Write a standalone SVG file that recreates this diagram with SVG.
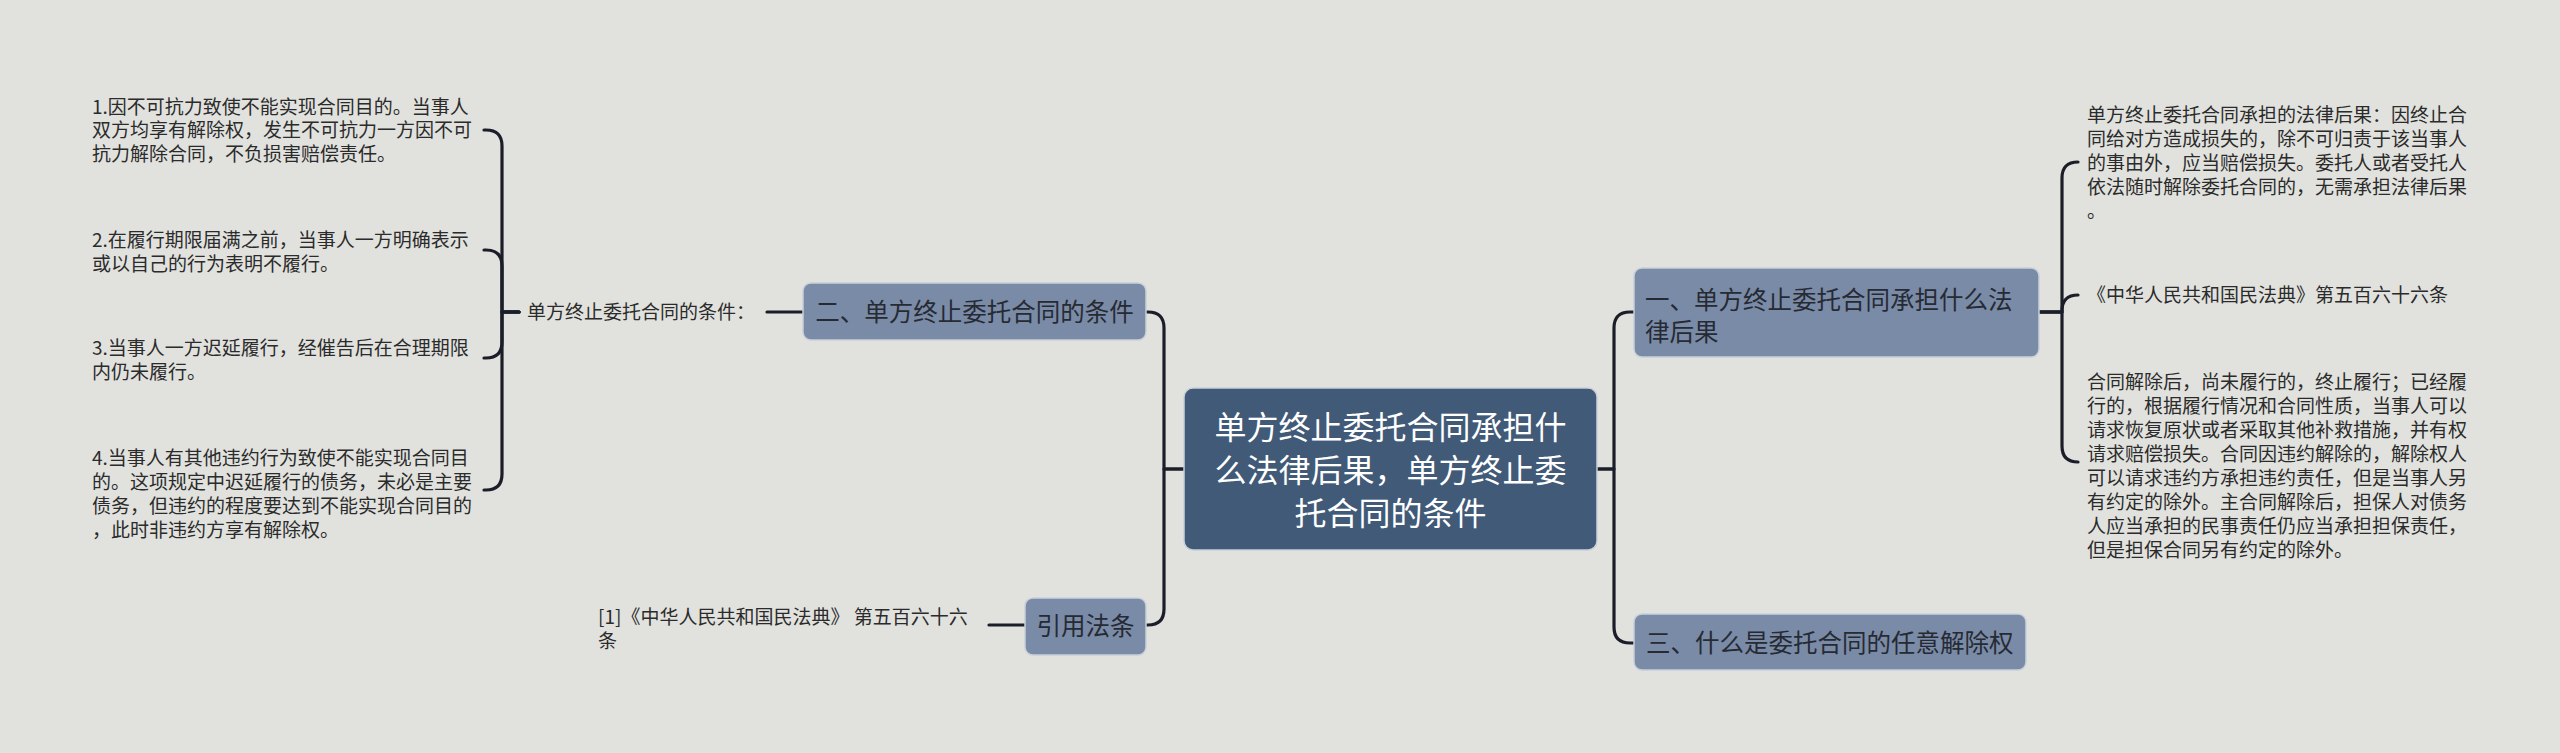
<svg xmlns="http://www.w3.org/2000/svg" width="2560" height="753" viewBox="0 0 2560 753">
<style>
text{font-family:"Noto Sans CJK SC","Noto Sans",sans-serif}
.leaf{font-size:19px;fill:#2b2b2b}
.sub{font-size:24.5px;fill:#262a33}
.ctr{font-size:32px;fill:#ffffff}
.subbox{fill:#7a8ba7;stroke:#c9d0da;stroke-width:1.5}
.ctrbox{fill:#405a78;stroke:#c9d0da;stroke-width:1.5}
.conn path{fill:none;stroke:#1b1e29;stroke-width:3.2;stroke-linecap:round;stroke-linejoin:round}
</style>
<rect width="2560" height="753" fill="#e1e2de"/>
<g class="conn">
<path d="M1184,469 H1164 V328 Q1164,312 1148,312 H1146"/>
<path d="M1184,469 H1164 V609 Q1164,625 1148,625 H1146"/>
<path d="M1597,469 H1614 V328 Q1614,312 1630,312 H1634"/>
<path d="M1597,469 H1614 V627 Q1614,643 1630,643 H1634"/>
<path d="M2039,312 H2062 V178 Q2062,162 2078,162"/>
<path d="M2039,312 H2062 V311 Q2062,295 2078,295"/>
<path d="M2039,312 H2062 V446 Q2062,462 2078,462"/>
<path d="M803,312 H767"/>
<path d="M1025,625 H989"/>
<path d="M519,312 H502 V146 Q502,130 486,130 H484"/>
<path d="M519,312 H502 V266 Q502,250 486,250 H484"/>
<path d="M519,312 H502 V342 Q502,358 486,358 H484"/>
<path d="M519,312 H502 V474 Q502,490 486,490 H484"/>
</g>
<g id="center">
<rect class="ctrbox" x="1184" y="388" width="413" height="162" rx="9"/>
<text class="ctr" x="1390.5" y="439" text-anchor="middle">单方终止委托合同承担什</text>
<text class="ctr" x="1390.5" y="482" text-anchor="middle">么法律后果，单方终止委</text>
<text class="ctr" x="1390.5" y="525" text-anchor="middle">托合同的条件</text>
</g>
<g id="n-yi">
<rect class="subbox" x="1634" y="268" width="405" height="89" rx="8"/>
<text class="sub" x="1645" y="309">一、单方终止委托合同承担什么法</text>
<text class="sub" x="1645" y="341">律后果</text>
</g>
<g id="n-san">
<rect class="subbox" x="1634" y="614" width="392" height="56" rx="8"/>
<text class="sub" x="1646" y="652">三、什么是委托合同的任意解除权</text>
</g>
<g id="n-er">
<rect class="subbox" x="803" y="283" width="343" height="57" rx="8"/>
<text class="sub" x="974.5" y="321" text-anchor="middle">二、单方终止委托合同的条件</text>
</g>
<g id="n-yinyong">
<rect class="subbox" x="1025" y="598" width="121" height="57" rx="8"/>
<text class="sub" x="1085.5" y="635" text-anchor="middle">引用法条</text>
</g>
<g id="label-tiaojian">
<text class="leaf" x="527" y="319">单方终止委托合同的条件：</text>
</g>
<g id="label-fatiao">
<text class="leaf" x="598" y="624">[1]《中华人民共和国民法典》 第五百六十六</text>
<text class="leaf" x="598" y="648">条</text>
</g>
<g id="item1">
<text class="leaf" x="92" y="113.5">1.因不可抗力致使不能实现合同目的。当事人</text>
<text class="leaf" x="92" y="137">双方均享有解除权，发生不可抗力一方因不可</text>
<text class="leaf" x="92" y="160.5">抗力解除合同，不负损害赔偿责任。</text>
</g>
<g id="item2">
<text class="leaf" x="92" y="247">2.在履行期限届满之前，当事人一方明确表示</text>
<text class="leaf" x="92" y="270.5">或以自己的行为表明不履行。</text>
</g>
<g id="item3">
<text class="leaf" x="92" y="355">3.当事人一方迟延履行，经催告后在合理期限</text>
<text class="leaf" x="92" y="379">内仍未履行。</text>
</g>
<g id="item4">
<text class="leaf" x="92" y="465">4.当事人有其他违约行为致使不能实现合同目</text>
<text class="leaf" x="92" y="489">的。这项规定中迟延履行的债务，未必是主要</text>
<text class="leaf" x="92" y="513">债务，但违约的程度要达到不能实现合同目的</text>
<text class="leaf" x="92" y="537">，此时非违约方享有解除权。</text>
</g>
<g id="r-item1">
<text class="leaf" x="2087" y="122">单方终止委托合同承担的法律后果：因终止合</text>
<text class="leaf" x="2087" y="146">同给对方造成损失的，除不可归责于该当事人</text>
<text class="leaf" x="2087" y="170">的事由外，应当赔偿损失。委托人或者受托人</text>
<text class="leaf" x="2087" y="194">依法随时解除委托合同的，无需承担法律后果</text>
<text class="leaf" x="2087" y="218">。</text>
</g>
<g id="r-item2">
<text class="leaf" x="2087" y="302">《中华人民共和国民法典》第五百六十六条</text>
</g>
<g id="r-item3">
<text class="leaf" x="2087" y="389">合同解除后，尚未履行的，终止履行；已经履</text>
<text class="leaf" x="2087" y="413">行的，根据履行情况和合同性质，当事人可以</text>
<text class="leaf" x="2087" y="437">请求恢复原状或者采取其他补救措施，并有权</text>
<text class="leaf" x="2087" y="461">请求赔偿损失。合同因违约解除的，解除权人</text>
<text class="leaf" x="2087" y="485">可以请求违约方承担违约责任，但是当事人另</text>
<text class="leaf" x="2087" y="509">有约定的除外。主合同解除后，担保人对债务</text>
<text class="leaf" x="2087" y="533">人应当承担的民事责任仍应当承担担保责任，</text>
<text class="leaf" x="2087" y="557">但是担保合同另有约定的除外。</text>
</g>
</svg>
